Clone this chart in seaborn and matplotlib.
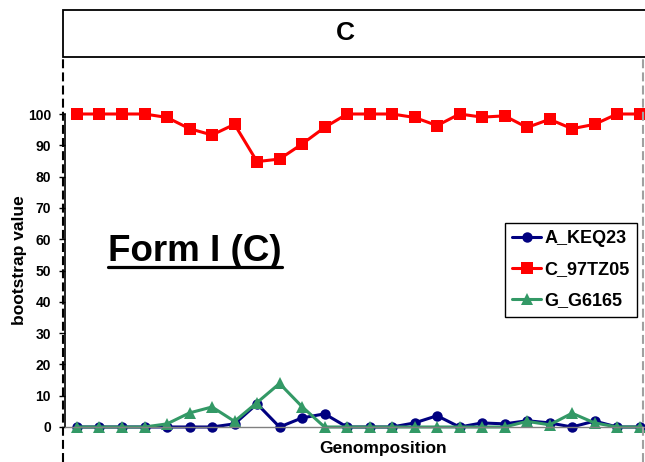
import pandas as pd
import matplotlib
matplotlib.use("Agg")
from matplotlib import pyplot as plt
from matplotlib.lines import Line2D
from matplotlib.patches import Rectangle
import seaborn as sns

sns.set_theme(style="white")
plt.rcParams["font.family"] = ["Liberation Sans", "DejaVu Sans"]
plt.rcParams["text.color"] = "black"
plt.rcParams["axes.labelcolor"] = "black"
plt.rcParams["ytick.color"] = "black"
plt.rcParams["xtick.color"] = "black"

# 数据
positions = list(range(26))
a_keq23 = [0, 0, 0, 0, 0, 0, 0, 1.0, 7.4, 0, 2.9, 4.2, 0,
           0, 0, 1.3, 3.6, 0, 1.3, 1.0, 2.0, 1.3, 0, 1.9, 0, 0]
c_97tz05 = [100, 100, 100, 100, 98.9, 95.3, 93.3, 96.7, 84.8, 85.6, 90.4, 95.7, 100,
            100, 100, 98.9, 96.3, 100, 99.0, 99.4, 95.7, 98.3, 95.3, 96.7, 100, 100]
g_g6165 = [0, 0, 0, 0, 1.0, 4.5, 6.4, 1.8, 7.8, 13.9, 6.5, 0, 0,
           0, 0, 0, 0, 0, 0, 0, 1.8, 0.7, 4.4, 1.3, 0, 0]
series_names = ["A_KEQ23", "C_97TZ05", "G_G6165"]
yticks = [0, 10, 20, 30, 40, 50, 60, 70, 80, 90, 100]

df = pd.DataFrame({
    "pos": positions * 3,
    "value": a_keq23 + c_97tz05 + g_g6165,
    "strain": [n for n in series_names for _ in positions],
})

fig = plt.figure(figsize=(6.45, 4.62), dpi=100)
ax = fig.add_axes([65 / 645, 35 / 462, 580 / 645, 313 / 462])

palette = {"A_KEQ23": "#000080", "C_97TZ05": "#FF0000", "G_G6165": "#339966"}
markers = {"A_KEQ23": "o", "C_97TZ05": "s", "G_G6165": "^"}
sns.lineplot(data=df, x="pos", y="value", hue="strain", style="strain",
             hue_order=series_names, style_order=series_names,
             palette=palette, markers=markers, dashes=False, legend=False,
             linewidth=2.2, markeredgewidth=0, clip_on=False, ax=ax)
sizes = {"A_KEQ23": 7.5, "C_97TZ05": 8, "G_G6165": 8.5}
for line, name in zip(ax.lines, series_names):
    line.set_markersize(sizes[name])

ax.set_xlim(-0.533, 25.24)
ax.set_ylim(0, 100)
ax.set_yticks(yticks)
ax.set_xticks([])
ax.tick_params(axis="y", left=True, length=4, width=1, pad=6, labelsize=10,
               color="black", direction="out")
for t in ax.get_yticklabels():
    t.set_fontweight("bold")
for s in ["top", "right"]:
    ax.spines[s].set_visible(False)
ax.spines["left"].set_color("black")
ax.spines["left"].set_linewidth(1.2)
ax.spines["bottom"].set_color("#808080")
ax.spines["bottom"].set_linewidth(1)

ax.set_ylabel("bootstrap value", fontsize=12.5, fontweight="bold")
ax.yaxis.set_label_coords(-0.066, 0.534)
ax.set_xlabel("Genomposition", fontsize=12.5, fontweight="bold")
ax.xaxis.set_label_coords(0.548, -0.045)

leg = ax.legend(ax.lines[:3], series_names, loc="upper left",
                bbox_to_anchor=(505 / 645, 1 - 223 / 462), bbox_transform=fig.transFigure,
                borderaxespad=0, fancybox=False, shadow=False, framealpha=1,
                edgecolor="black", prop={"weight": "bold", "size": 13},
                handlelength=1.6, handletextpad=0.2, labelspacing=0.78, borderpad=0.4)
leg.get_frame().set_linewidth(1)

# 标题框
fig.patches.append(Rectangle((63 / 645, 1 - 57 / 462), 0.99 - 63 / 645 + 0.05, 47 / 462,
                             transform=fig.transFigure, facecolor="white",
                             edgecolor="black", linewidth=1.3, clip_on=False))
fig.text(345 / 645, 1 - 33 / 462, "C", ha="center", va="center",
         fontsize=19, fontweight="bold")

# 虚线
fig.add_artist(Line2D([63 / 645, 63 / 645], [0, 1 - 57 / 462], color="black",
                      linewidth=1.5, linestyle=(0, (4.3, 2))))
fig.add_artist(Line2D([643 / 645, 643 / 645], [0, 1 - 57 / 462], color="#a0a0a0",
                      linewidth=1.5, linestyle=(0, (4.3, 2))))

# Form I (C) 带下划线
form = fig.text(195 / 645, 201 / 462, "Form I (C)", ha="center", va="baseline",
                fontsize=26.5, fontweight="bold")
fig.canvas.draw()
bb = form.get_window_extent()
fig.add_artist(Line2D([bb.x0 / 645, bb.x1 / 645], [195 / 462, 195 / 462],
                      color="black", linewidth=2.3))

fig.savefig("out.png", dpi=100)
